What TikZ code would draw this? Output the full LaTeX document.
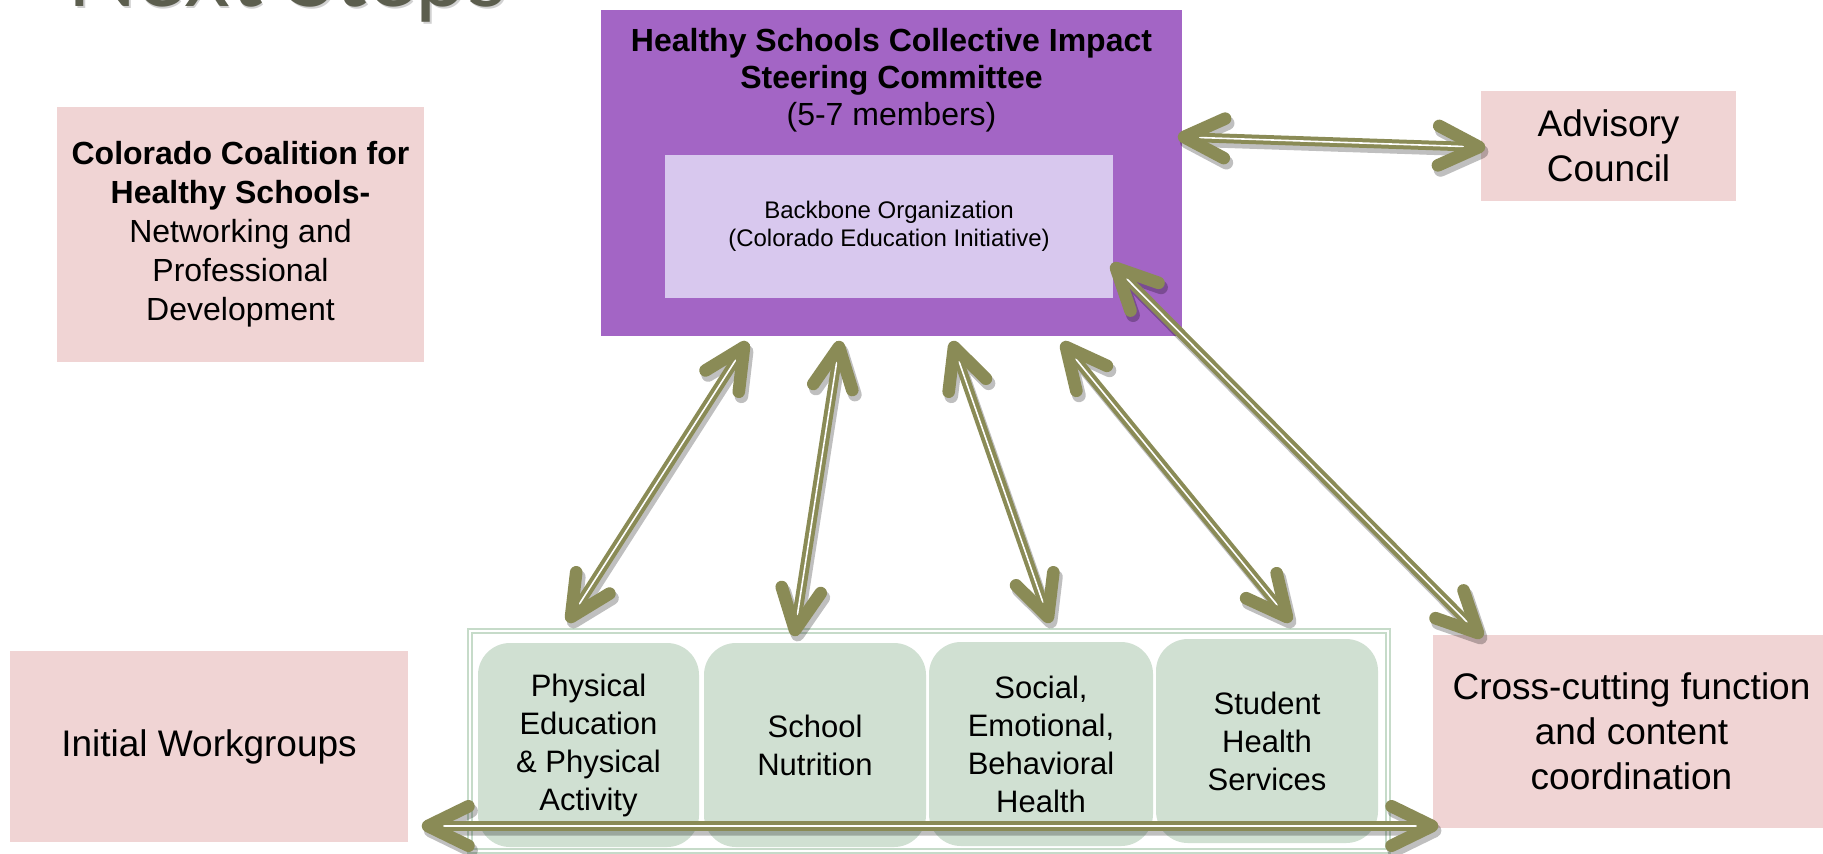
\documentclass[tikz,border=0pt]{standalone}
\usepackage{fontspec}
\setmainfont{Liberation Sans}
\newfontfamily\titlefont{Lato}
\usetikzlibrary{calc}
\definecolor{purplebox}{RGB}{163,101,197}
\definecolor{lavender}{RGB}{216,200,238}
\definecolor{pinkbox}{RGB}{240,212,212}
\definecolor{greenbox}{RGB}{208,224,210}
\definecolor{greenline}{RGB}{198,219,201}
\definecolor{olivearrow}{RGB}{138,139,86}
\definecolor{titlegray}{RGB}{92,94,78}
\tikzset{
  pinknode/.style={fill=pinkbox, draw=none, align=center, inner sep=0pt},
  greennode/.style={fill=greenbox, draw=none, rounded corners=16pt, align=center, inner sep=0pt,
     minimum height=102pt, font=\fontsize{15.5}{19}\selectfont},
  arrshaft/.style={draw=olivearrow, line width=2pt, double=white, double distance=0.8pt},
  arrhead/.style={draw=olivearrow, line width=6.3pt, line cap=round, line join=round},
  shadowshaft/.style={draw=black, line width=5pt},
  shadowhead/.style={draw=black, line width=6.8pt, line cap=round, line join=round},
}
\newcommand\twoway[2]{%
  \begin{scope}[transform canvas={xshift=1.3pt,yshift=-2.3pt}]
    \begin{scope}[transparency group, opacity=0.25]
      \draw[shadowshaft] ($(#1)!3pt!(#2)$) -- ($(#2)!3pt!(#1)$);
      \draw[shadowhead] ($(#1)!22.5pt!26:(#2)$) -- (#1) -- ($(#1)!22.5pt!-26:(#2)$);
      \draw[shadowhead] ($(#2)!22.5pt!26:(#1)$) -- (#2) -- ($(#2)!22.5pt!-26:(#1)$);
    \end{scope}
  \end{scope}
  \draw[arrshaft] ($(#1)!3pt!(#2)$) -- ($(#2)!3pt!(#1)$);
  \draw[arrhead] ($(#1)!22.5pt!26:(#2)$) -- (#1) -- ($(#1)!22.5pt!-26:(#2)$);
  \draw[arrhead] ($(#2)!22.5pt!26:(#1)$) -- (#2) -- ($(#2)!22.5pt!-26:(#1)$);
}
\begin{document}
\begin{tikzpicture}[x=0.5pt,y=-0.5pt]
\clip (0,0) rectangle (1823,853);
\fill[white] (0,0) rectangle (1823,853);

% title (cropped at the top)
\begin{scope}[transform canvas={xshift=0.8pt,yshift=-1.2pt}]
  \node[anchor=base west, inner sep=0pt, text=black, opacity=0.18,
        font=\titlefont\fontsize{46}{52}\selectfont] (titleshadow) at (67,6) {Next Steps};
\end{scope}
\node[anchor=base west, inner sep=0pt, text=titlegray,
      font=\titlefont\fontsize{46}{52}\selectfont] (title) at (67,6) {Next Steps};

% left boxes
\node[pinknode, minimum width=183.5pt, minimum height=127.5pt,
      font=\fontsize{16}{19.5}\selectfont] (coal) at (240.5,234.5)
  {\textbf{Colorado Coalition for}\\\textbf{Healthy Schools-}\\Networking and\\Professional\\Development};
\node[pinknode, minimum width=199pt, minimum height=95.5pt,
      font=\fontsize{18.5}{22.5}\selectfont] (init) at (209,746.5) {Initial Workgroups};

% steering committee
\node[fill=purplebox, draw=none, minimum width=290.5pt, minimum height=163pt] (steer) at (891.5,173) {};
\node[align=center, inner sep=0pt, font=\fontsize{16}{18.5}\selectfont] (steerlabel) at (891.5,80)
  {\textbf{Healthy Schools Collective Impact}\\\textbf{Steering Committee}\\(5-7 members)};
\node[fill=lavender, draw=none, align=center, inner sep=0pt, minimum width=224pt, minimum height=71.5pt,
      font=\fontsize{12}{14}\selectfont] (backbone) at (889,226.5)
  {Backbone Organization\\(Colorado Education Initiative)};

% right boxes
\node[pinknode, minimum width=127.5pt, minimum height=55pt,
      font=\fontsize{18.5}{22.5}\selectfont] (advisory) at (1608.5,146) {Advisory\\Council};
\node[pinknode, minimum width=198.5pt, minimum height=96.5pt,
      font=\fontsize{18.5}{22.5}\selectfont] (cross) at (1631.5,731.5)
  {Cross-cutting function\\and content\\coordination};

% workgroup container
\node[draw=greenline, line width=0.9pt, double=white, double distance=1pt,
      minimum width=459pt, minimum height=110pt, inner sep=0pt] (group) at (929,741) {};
\node[greennode, minimum width=110.5pt] (pe) at (588.5,745)
  {Physical\\Education\\\& Physical\\Activity};
\node[greennode, minimum width=111pt] (nutr) at (815,745) {School\\Nutrition};
\node[greennode, minimum width=112pt] (seb) at (1041,744)
  {Social,\\Emotional,\\Behavioral\\Health};
\node[greennode, minimum width=111pt] (shs) at (1267,741) {Student\\Health\\Services};

% arrow end points
\coordinate (advL) at (1184,137);
\coordinate (advR) at (1479,147);
\coordinate (a1t) at (744,347);
\coordinate (a1b) at (571,617);
\coordinate (a2t) at (839,347);
\coordinate (a2b) at (795,630);
\coordinate (a3t) at (954,347);
\coordinate (a3b) at (1048,617);
\coordinate (a4t) at (1066,347);
\coordinate (a4b) at (1287,617);
\coordinate (a5t) at (1116,268);
\coordinate (a5b) at (1478,633);
\coordinate (botL) at (428,826);
\coordinate (botR) at (1432,826);

\twoway{advL}{advR}
\twoway{a1t}{a1b}
\twoway{a2t}{a2b}
\twoway{a3t}{a3b}
\twoway{a4t}{a4b}
\twoway{a5t}{a5b}
\twoway{botL}{botR}
\end{tikzpicture}
\end{document}
